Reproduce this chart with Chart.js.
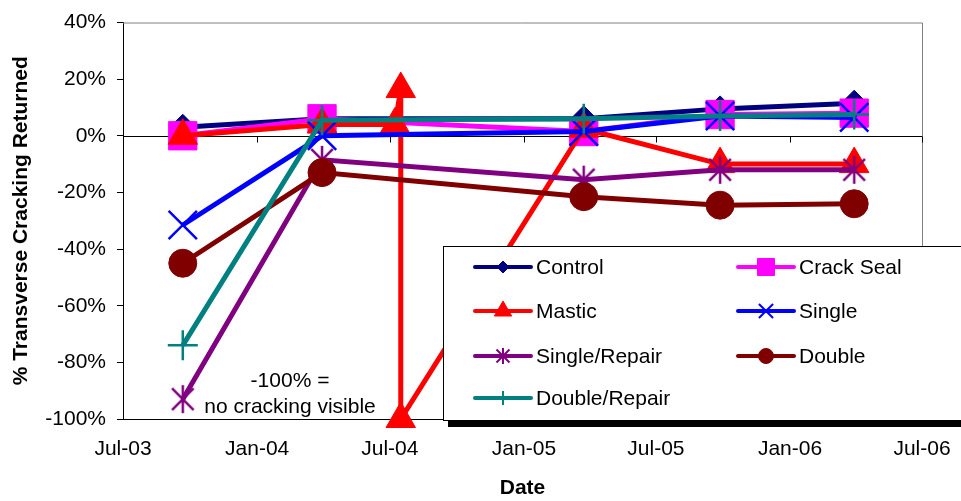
<!DOCTYPE html>
<html>
<head>
<meta charset="utf-8">
<script src="https://cdn.jsdelivr.net/npm/chart.js@4.4.1/dist/chart.umd.min.js"></script>
<style>
  html, body { margin: 0; padding: 0; background: #fff; }
</style>
</head>
<body>
<canvas id="chart" width="961" height="501"></canvas>
<script>
// ── Data ──────────────────────────────────────────────────────
const SURVEY_DATES = ['2003-09-21', '2004-03-30', '2005-03-24', '2005-09-27', '2006-03-30'];
const MASTIC_DATES = ['2003-09-21', '2004-03-30', '2004-07-08', '2004-07-16', '2004-07-16',
                      '2005-03-24', '2005-09-27', '2006-03-30'];

const control      = [3, 6, 6, 9.5, 11.5];
const crackSeal    = [0, 6, 1.5, 7.5, 8];
const mastic       = [0, 4, 4, 16.5, -100, 2.5, -10, -10];
const single       = [-31.5, 0, 1.5, 7, 6.5];
const singleRepair = [-93, -8.5, -15.5, -12, -12];
const double_      = [-45, -13, -21.5, -24.5, -24];
const doubleRepair = [-74, 5.5, 6, 7, 7.5];

const TICK_DATES  = ['2003-07-01', '2004-01-01', '2004-07-01', '2005-01-01', '2005-07-01', '2006-01-01', '2006-07-01'];
const TICK_LABELS = ['Jul-03', 'Jan-04', 'Jul-04', 'Jan-05', 'Jul-05', 'Jan-06', 'Jul-06'];

const FONT = '"Liberation Sans", Arial, sans-serif';

function day(s) {
  return Date.UTC(+s.slice(0, 4), +s.slice(5, 7) - 1, +s.slice(8, 10)) / 864e5;
}

// Excel style asterisk: X plus a vertical bar
function asterisk(size, color, lw) {
  const c = document.createElement('canvas');
  c.width = size; c.height = size;
  const g = c.getContext('2d');
  const m = size / 2, d = size * 0.36;
  g.strokeStyle = color; g.lineWidth = lw;
  g.beginPath();
  g.moveTo(m - d, m - d); g.lineTo(m + d, m + d);
  g.moveTo(m + d, m - d); g.lineTo(m - d, m + d);
  g.moveTo(m, 1); g.lineTo(m, size - 1);
  g.stroke();
  return c;
}

const SERIES = [
  { name: 'Control',       dates: SURVEY_DATES, values: control,      color: '#000080', style: 'rectRot',  r: 13, lr: 6 },
  { name: 'Crack Seal',    dates: SURVEY_DATES, values: crackSeal,    color: '#FF00FF', style: 'rect',     r: 20, lr: 12 },
  { name: 'Mastic',        dates: MASTIC_DATES, values: mastic,       color: '#FF0000', style: 'triangle', r: 17, lr: 10 },
  { name: 'Single',        dates: SURVEY_DATES, values: single,       color: '#0000FF', style: 'crossRot', r: 20, lr: 10, bw: 2.5 },
  { name: 'Single/Repair', dates: SURVEY_DATES, values: singleRepair, color: '#800080', style: asterisk(30, '#800080', 2.5), r: 15,
    legendStyle: asterisk(18, '#800080', 2), lr: 9 },
  { name: 'Double',        dates: SURVEY_DATES, values: double_,      color: '#800000', style: 'circle',   r: 14, lr: 7.5 },
  { name: 'Double/Repair', dates: SURVEY_DATES, values: doubleRepair, color: '#008080', style: 'cross',    r: 15, lr: 7, bw: 2.5 },
];

// ── Extras: zero axis, plot frame, note, legend box ───────────
const decor = {
  id: 'decor',
  beforeDatasetsDraw(chart) {
    const { ctx, chartArea: a, scales: { x, y } } = chart;
    ctx.save();
    ctx.strokeStyle = '#808080';
    ctx.lineWidth = 1;
    ctx.beginPath();
    ctx.moveTo(a.left, a.top + 0.5); ctx.lineTo(a.right + 0.5, a.top + 0.5);
    ctx.lineTo(a.right + 0.5, a.bottom);
    ctx.stroke();
    // x axis crosses at 0%
    const y0 = Math.round(y.getPixelForValue(0)) + 0.5;
    ctx.strokeStyle = '#000';
    ctx.beginPath();
    ctx.moveTo(a.left, y0); ctx.lineTo(a.right, y0);
    TICK_DATES.forEach(d => {
      const px = Math.round(x.getPixelForValue(day(d))) + 0.5;
      ctx.moveTo(px, y0); ctx.lineTo(px, y0 + 6);
    });
    ctx.stroke();
    ctx.restore();
  },
  afterDraw(chart) {
    const { ctx } = chart;
    ctx.save();
    ctx.font = '21px ' + FONT;
    ctx.fillStyle = '#000';
    ctx.textAlign = 'center';
    ctx.textBaseline = 'middle';
    ctx.fillText('-100% =', 290, 381);
    ctx.fillText('no cracking visible', 290, 407);

    // legend box with shadow
    const bx = 443, by = 246, bw = 530, bh = 174;
    ctx.fillStyle = '#000';
    ctx.fillRect(bx + 5, by + 6, bw, bh + 1);
    ctx.fillStyle = '#fff';
    ctx.fillRect(bx, by, bw, bh);
    ctx.strokeStyle = '#000';
    ctx.lineWidth = 1;
    ctx.strokeRect(bx + 0.5, by + 0.5, bw, bh);

    const rows = [267, 311, 356, 398];
    const cols = [475, 738];
    ctx.textAlign = 'left';
    SERIES.forEach((s, i) => {
      const lx = cols[i % 2], ly = rows[Math.floor(i / 2)];
      ctx.strokeStyle = s.color;
      ctx.lineWidth = 4;
      ctx.lineCap = 'round';
      ctx.beginPath();
      ctx.moveTo(lx, ly); ctx.lineTo(lx + 56, ly);
      ctx.stroke();
      ctx.lineCap = 'butt';
      ctx.fillStyle = s.color;
      ctx.lineWidth = s.bw ? 2 : 1;
      Chart.helpers.drawPoint(ctx, {
        pointStyle: s.legendStyle || s.style, radius: s.lr, rotation: 0, borderWidth: s.bw ? 2 : 1
      }, lx + 28, ly);
      ctx.fillStyle = '#000';
      ctx.fillText(s.name, lx + 61, ly + 1);
    });
    ctx.restore();
  }
};

Chart.defaults.font.family = FONT;
Chart.defaults.color = '#000';

new Chart(document.getElementById('chart'), {
  type: 'line',
  data: {
    datasets: SERIES.map((s, i) => ({
      label: s.name,
      data: s.values.map((v, k) => ({ x: day(s.dates[k]), y: v })),
      borderColor: s.color,
      backgroundColor: s.color,
      borderWidth: 5,
      pointStyle: s.style,
      pointRadius: s.r,
      pointBorderWidth: s.bw || 1,
      pointBorderColor: s.color,
      pointBackgroundColor: s.color,
      tension: 0,
      clip: false,
      order: SERIES.length - 1 - i,
    }))
  },
  options: {
    responsive: false,
    animation: false,
    layout: { padding: { left: 0, right: 39, top: 20, bottom: 0 } },
    plugins: { legend: { display: false }, tooltip: { enabled: false } },
    scales: {
      x: {
        type: 'linear',
        min: day(TICK_DATES[0]),
        max: day(TICK_DATES[TICK_DATES.length - 1]),
        afterBuildTicks: sc => { sc.ticks = TICK_DATES.map(d => ({ value: day(d) })); },
        afterFit: sc => { sc.height = 82; sc.paddingLeft = 0; sc.paddingRight = 0; },
        grid: { display: false, drawTicks: false },
        border: { display: true, color: '#000', width: 1 },
        ticks: {
          autoSkip: false, maxRotation: 0, padding: 18,
          font: { size: 21 }, color: '#000',
          callback: (v, i) => TICK_LABELS[i]
        },
        title: { display: true, text: 'Date', font: { size: 21, weight: 'bold' }, padding: { top: 0, bottom: 0 } }
      },
      y: {
        min: -100, max: 40,
        afterFit: sc => { sc.width = 123; sc.paddingTop = 0; sc.paddingBottom = 0; },
        grid: { display: true, drawOnChartArea: false, drawTicks: true, tickLength: 6, color: '#000' },
        border: { display: true, color: '#000', width: 1 },
        ticks: { stepSize: 20, padding: 11, font: { size: 21 }, color: '#000', callback: v => v + '%' },
        title: {
          display: true, text: '% Transverse Cracking Returned',
          font: { size: 21, weight: 'bold' }, padding: { top: 9, bottom: 0 }
        }
      }
    }
  },
  plugins: [decor]
});
</script>
</body>
</html>
